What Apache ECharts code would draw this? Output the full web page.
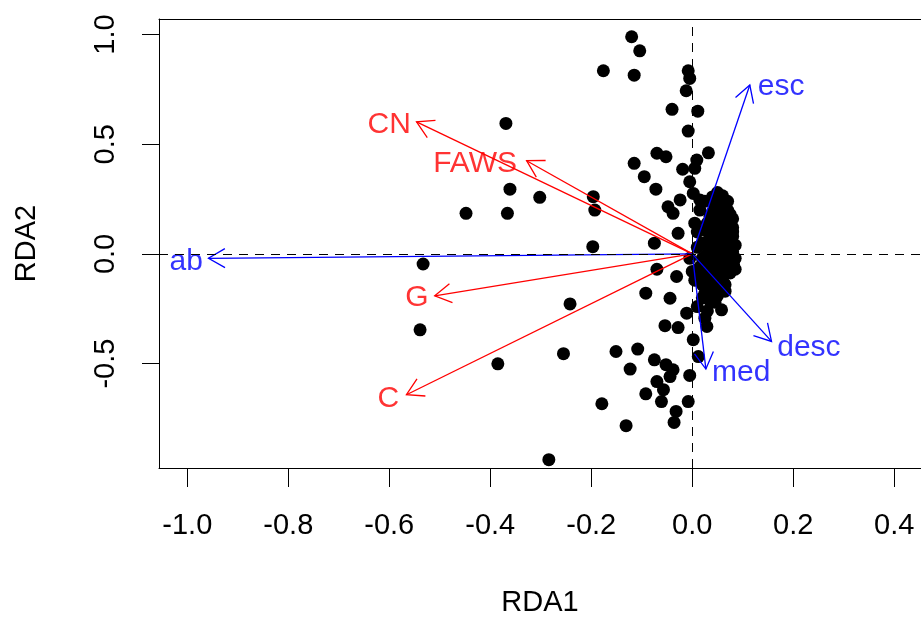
<!DOCTYPE html>
<html>
<head>
<meta charset="utf-8">
<script src="https://cdn.jsdelivr.net/npm/echarts@6/dist/echarts.min.js"></script>
<style>
  html, body { margin: 0; padding: 0; background: #fff; }
  #main { width: 921px; height: 618px; }
</style>
</head>
<body>
<div id="main"></div>
<script>
// tick labels
var xTicks = [-1.0, -0.8, -0.6, -0.4, -0.2, 0.0, 0.2, 0.4];
var yTicks = [-0.5, 0.0, 0.5, 1.0];

// site scores (RDA1, RDA2)
var sites = [
  [-0.120, 0.990], [-0.104, 0.926], [-0.176, 0.835], [-0.115, 0.815], [-0.008, 0.835],
  [-0.005, 0.800], [-0.012, 0.744], [-0.040, 0.659], [0.011, 0.651], [-0.008, 0.560],
  [-0.070, 0.459], [-0.052, 0.443], [-0.115, 0.413], [0.032, 0.461], [0.009, 0.428],
  [0.005, 0.390], [-0.019, 0.386], [-0.095, 0.352], [-0.072, 0.295], [-0.005, 0.329],
  [-0.196, 0.261], [-0.193, 0.200], [-0.024, 0.246], [-0.048, 0.215], [-0.038, 0.185],
  [0.002, 0.276], [0.015, 0.246], [-0.028, 0.094], [-0.075, 0.049], [-0.197, 0.033],
  [-0.369, 0.595], [-0.361, 0.295], [-0.302, 0.258], [-0.448, 0.185], [-0.366, 0.185],
  [-0.533, -0.046], [-0.539, -0.346], [-0.385, -0.501], [-0.255, -0.455], [-0.242, -0.228],
  [-0.284, -0.938],
  [-0.070, -0.070], [-0.092, -0.179], [-0.031, -0.103], [-0.044, -0.202], [-0.011, -0.270],
  [-0.054, -0.327], [-0.028, -0.336], [0.002, -0.391], [0.029, -0.331], [0.025, -0.293],
  [-0.151, -0.445], [-0.108, -0.434], [-0.123, -0.525], [-0.075, -0.483], [-0.052, -0.505],
  [-0.038, -0.528], [-0.044, -0.559], [-0.070, -0.582], [-0.057, -0.619], [-0.092, -0.638],
  [-0.061, -0.673], [-0.005, -0.554], [0.012, -0.468], [-0.008, -0.673], [-0.179, -0.683],
  [-0.032, -0.718], [-0.036, -0.768], [-0.131, -0.783],
  // dense cluster right of the origin
  [0.050, 0.280], [0.055, 0.250], [0.045, 0.220], [0.060, 0.220], [0.070, 0.200],
  [0.040, 0.190], [0.065, 0.170], [0.050, 0.160], [0.075, 0.140], [0.030, 0.140],
  [0.060, 0.120], [0.045, 0.100], [0.070, 0.100], [0.080, 0.080], [0.035, 0.080],
  [0.055, 0.060], [0.075, 0.050], [0.020, 0.050], [0.045, 0.030], [0.065, 0.020],
  [0.080, 0.010], [0.030, 0.000], [0.055, -0.010], [0.070, -0.030], [0.040, -0.030],
  [0.082, -0.050], [0.015, -0.060], [0.060, -0.060], [0.045, -0.080], [0.075, -0.087],
  [0.030, -0.100], [0.060, -0.120], [0.020, -0.140], [0.050, -0.150], [0.035, -0.180],
  [0.065, -0.170], [0.020, -0.200], [0.045, -0.220], [0.010, -0.240], [0.030, -0.260],
  [0.058, -0.255], [0.005, -0.120], [0.010, 0.100], [0.015, 0.200], [0.025, 0.240],
  [0.060, 0.265], [0.040, 0.260], [0.085, -0.070], [0.080, 0.120], [0.070, 0.240],
  [0.020, -0.020], [0.010, 0.030], [-0.005, -0.020], [0.005, 0.140], [0.000, -0.080],
  [0.055, 0.200], [0.065, 0.145], [0.040, 0.130], [0.055, 0.090], [0.070, 0.065],
  [0.040, 0.055], [0.060, 0.040], [0.075, 0.025], [0.050, 0.005], [0.065, -0.005],
  [0.035, -0.055], [0.050, -0.045], [0.070, -0.060], [0.055, -0.095], [0.040, -0.120],
  [0.065, -0.140], [0.030, -0.150], [0.050, -0.190], [0.035, -0.215], [0.025, -0.180],
  [0.080, 0.160], [0.075, 0.180], [0.035, 0.170], [0.025, 0.110], [0.020, -0.090],
  [0.030, 0.040], [0.085, 0.040], [0.085, -0.020], [0.080, 0.100], [0.045, 0.240]
];

// explanatory variables (red arrows)
var envNames = ['CN', 'FAWS', 'G', 'C'];
var envTips = [[-0.546, 0.602], [-0.328, 0.425], [-0.510, -0.191], [-0.566, -0.642]];
var envLabels = [[-0.600, 0.587], [-0.430, 0.410], [-0.545, -0.200], [-0.602, -0.660]];

// response variables (blue arrows)
var respNames = ['esc', 'desc', 'med', 'ab'];
var respTips = [[0.114, 0.770], [0.157, -0.399], [0.027, -0.525], [-0.958, -0.020]];
var respLabels = [[0.176, 0.761], [0.231, -0.428], [0.097, -0.542], [-1.002, -0.036]];

var FONT = '"Liberation Sans", Arial, sans-serif';

function arrowItem(params, api) {
  var o = api.coord([0, 0]);
  var t = api.coord([api.value(0), api.value(1)]);
  var ang = Math.atan2(o[1] - t[1], o[0] - t[0]);
  var L = 19, a = Math.PI / 6;
  var p1 = [t[0] + L * Math.cos(ang + a), t[1] + L * Math.sin(ang + a)];
  var p2 = [t[0] + L * Math.cos(ang - a), t[1] + L * Math.sin(ang - a)];
  var st = { stroke: api.visual('color'), lineWidth: 1.3, fill: null };
  return {
    type: 'group',
    children: [
      { type: 'line', shape: { x1: o[0], y1: o[1], x2: t[0], y2: t[1] }, style: st },
      { type: 'polyline', shape: { points: [p1, t, p2] }, style: st }
    ]
  };
}

function labelData(names, pos) {
  return names.map(function (n, i) { return { name: n, value: pos[i] }; });
}

var chart = echarts.init(document.getElementById('main'));
chart.setOption({
  animation: false,
  grid: { left: 159, right: 0, top: 19, bottom: 150, outerBoundsMode: 'none' },
  xAxis: [{
    type: 'value', min: -1.056, max: 0.453,
    name: 'RDA1', nameLocation: 'middle', nameGap: 120,
    nameTextStyle: { fontFamily: FONT, fontSize: 29, color: '#000' },
    axisLine: { show: true, onZero: false, lineStyle: { color: '#000', width: 1 } },
    axisTick: { show: true, length: 19, customValues: xTicks, lineStyle: { color: '#000' } },
    axisLabel: {
      customValues: xTicks, margin: 43, fontFamily: FONT, fontSize: 29, color: '#000',
      formatter: function (v) { return v.toFixed(1); }
    },
    splitLine: { show: false }
  }, {
    type: 'value', position: 'top', min: -1.056, max: 0.453,
    axisLine: { show: true, onZero: false, lineStyle: { color: '#000', width: 1 } },
    axisTick: { show: false }, axisLabel: { show: false }, splitLine: { show: false }
  }],
  yAxis: {
    type: 'value', min: -0.976, max: 1.071,
    name: 'RDA2', nameLocation: 'middle', nameGap: 118,
    nameTextStyle: { fontFamily: FONT, fontSize: 29, color: '#000' },
    axisLine: { show: true, onZero: false, lineStyle: { color: '#000', width: 1 } },
    axisTick: { show: true, length: 17, customValues: yTicks, lineStyle: { color: '#000' } },
    axisLabel: {
      customValues: yTicks, rotate: 90, margin: 39, fontFamily: FONT, fontSize: 29, color: '#000',
      formatter: function (v) { return v.toFixed(1); }
    },
    splitLine: { show: false }
  },
  series: [
    {
      type: 'scatter', data: [], z: 1, silent: true,
      markLine: {
        silent: true, symbol: 'none', label: { show: false },
        lineStyle: { color: '#000', type: [9, 7], width: 1 },
        data: [{ xAxis: 0 }, { yAxis: 0 }]
      }
    },
    {
      type: 'scatter', data: sites, symbolSize: 13, z: 2,
      itemStyle: { color: '#000', opacity: 1 }
    },
    {
      type: 'custom', data: envTips, renderItem: arrowItem, z: 3,
      itemStyle: { color: '#FF0000' }
    },
    {
      type: 'custom', data: respTips, renderItem: arrowItem, z: 3,
      itemStyle: { color: '#0000FF' }
    },
    {
      type: 'scatter', data: labelData(envNames, envLabels), symbolSize: 0, z: 4,
      label: {
        show: true, position: 'inside', formatter: '{b}',
        fontFamily: FONT, fontSize: 30, color: '#FF0000'
      }
    },
    {
      type: 'scatter', data: labelData(respNames, respLabels), symbolSize: 0, z: 4,
      label: {
        show: true, position: 'inside', formatter: '{b}',
        fontFamily: FONT, fontSize: 30, color: '#0000FF'
      }
    }
  ]
});
</script>
</body>
</html>
